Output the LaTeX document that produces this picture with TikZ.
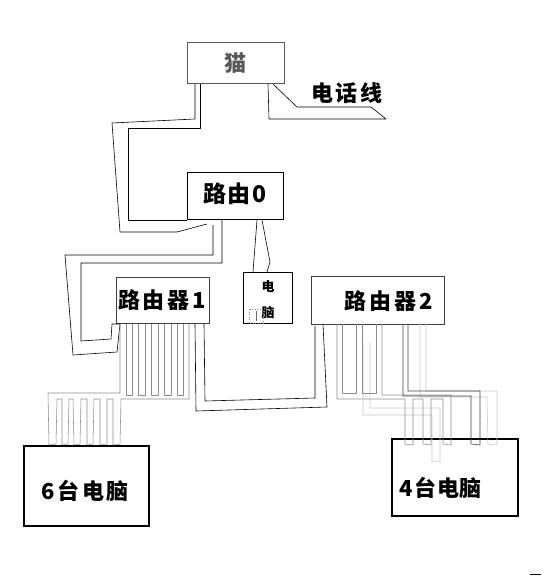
\documentclass[tikz,border=0pt]{standalone}
\usepackage{fontspec}
\newfontfamily\cjk{Noto Sans CJK SC}
\begin{document}
\begin{tikzpicture}[x=1pt,y=-1pt,
  box/.style={draw=black, line width=0.8pt, inner sep=0pt},
  greybox/.style={box, draw=black!75},
  thickbox/.style={box, line width=1.1pt},
  lbl/.style={inner sep=0pt, font=\cjk\bfseries\fontsize{22}{22}\selectfont},
  cable/.style={draw=black, line width=0.6pt, line join=round},
  lcable/.style={draw=black!45, line width=0.55pt, line join=round}]
\useasboundingbox (0,0) rectangle (545,579);

% boxes
\node[box, draw=black!65, minimum width=97pt, minimum height=41pt] (modem) at (235.5,62.5) {};
\node[box, minimum width=96pt, minimum height=47pt] (r0) at (235,195.5) {};
\node[greybox, minimum width=93pt, minimum height=46pt] (r1) at (162.5,300) {};
\node[box, minimum width=49pt, minimum height=51pt] (pc) at (267.5,297.5) {};
\node[greybox, minimum width=133pt, minimum height=48pt] (r2) at (377.5,300) {};
\node[thickbox, minimum width=125pt, minimum height=80pt] (b6) at (86.5,486) {};
\node[thickbox, minimum width=126pt, minimum height=77pt] (b4) at (455,477.5) {};

% labels
\node[lbl, text=black!65] (tmodem) at (235,63) {猫};
\node[lbl, font=\cjk\bfseries\fontsize{22}{22}\selectfont\addfontfeature{LetterSpace=12}] (tphone) at (347,93) {电话线};
\node[lbl, font=\cjk\bfseries\fontsize{23}{23}\selectfont\addfontfeature{LetterSpace=6}] (tr0) at (235,194) {路由0};
\node[lbl, font=\cjk\bfseries\fontsize{22}{22}\selectfont\addfontfeature{LetterSpace=12}] (tr1) at (162,300) {路由器1};
\node[lbl, font=\cjk\bfseries\fontsize{22}{22}\selectfont\addfontfeature{LetterSpace=14}] (tr2) at (389,301) {路由器2};
\node[lbl, font=\cjk\bfseries\fontsize{13}{13}\selectfont] (tpc1) at (268,287) {电};
\node[lbl, font=\cjk\bfseries\fontsize{13}{13}\selectfont] (tpc2) at (268,313) {脑};
\node[lbl, font=\cjk\bfseries\fontsize{22}{22}\selectfont\addfontfeature{LetterSpace=12}] (tb6) at (85,491) {6台电脑};
\node[lbl, font=\cjk\bfseries\fontsize{22}{22}\selectfont\addfontfeature{LetterSpace=4}] (tb4) at (441,488) {4台电脑};

% cursor artefact
\draw[black!50, dotted, line width=0.5pt] (249,309) rectangle (263,323);
\draw[black!60, line width=0.5pt] (256,311) -- (256,321);

% phone line
\draw[cable] (268,84) -- (269,119) -- (386,119) -- (371,107) -- (297,107) -- (273,84);

% modem -> router 0
\draw[cable] (195,84) -- (195,119) -- (112,123) -- (120,232) -- (177,232) -- (207,224);
\draw[cable] (200,84) -- (200,128) -- (128,128) -- (128,220) -- (187,220);

% router 0 -> router 1
\draw[cable] (213,225) -- (213,255) -- (65,255) -- (73,355) -- (117,352) -- (120,324);
\draw[cable] (222,220) -- (222,263) -- (81,263) -- (81,341) -- (111,339) -- (112,324) -- (120,324);

% router 0 -> pc
\draw[cable] (257,220) -- (253,272);
\draw[cable] (262,220) -- (270,262) -- (267,272);

% router 1 -> router 2
\draw[cable] (204,324) -- (205,401) -- (315,398) -- (315,326);
\draw[cable] (195,324) -- (196,411) -- (327,407) -- (323,324);

% router 1 -> 6 computers (bundle)
\draw[lcable] (120,324) -- (120,393) -- (48,393) -- (49,445) -- (56,444) -- (57,399)
  -- (62,399) -- (62,445) -- (68,444) -- (69,399)
  -- (73,399) -- (74,445) -- (80,444) -- (81,399)
  -- (87,399) -- (87,445) -- (93,444) -- (94,399)
  -- (100,399) -- (100,445) -- (107,444) -- (107,399)
  -- (113,399) -- (113,445) -- (120,444) -- (121,399)
  -- (189,399) -- (189,324);
\foreach \u/\v in {126/132, 138/145, 151/158, 164/171, 177/183}{
  \draw[lcable] (\u,324) -- (\u,395) -- (\v,395) -- (\v,324);
}

% router 2 -> 4 computers (bundle)
\draw[lcable, draw=black!22] (420,324) -- (420,397) -- (487,397) -- (488,444) -- (497,445) -- (497,391) -- (426,391) -- (426,324);
\draw[lcable, draw=black!22] (363,342) -- (363,415) -- (432,415) -- (432,461) -- (440,462) -- (440,408) -- (370,408) -- (370,342);
\draw[lcable] (337,324) -- (337,399) -- (405,399) -- (405,444) -- (413,445) -- (413,399)
  -- (423,399) -- (423,444) -- (431,445) -- (431,399)
  -- (443,399) -- (443,444) -- (451,445) -- (451,395) -- (382,395) -- (382,324);
\foreach \u/\v in {342/356, 362/376}{
  \draw[lcable] (\u,324) -- (\u,393) -- (\v,393) -- (\v,324);
}
\draw[lcable, draw=black!75] (403,324) -- (403,396) -- (471,396) -- (471,444) -- (480,445) -- (480,391) -- (408,391) -- (408,324);

% stray mark
\draw[black, line width=0.6pt] (530,574) -- (541,574);
\end{tikzpicture}
\end{document}
